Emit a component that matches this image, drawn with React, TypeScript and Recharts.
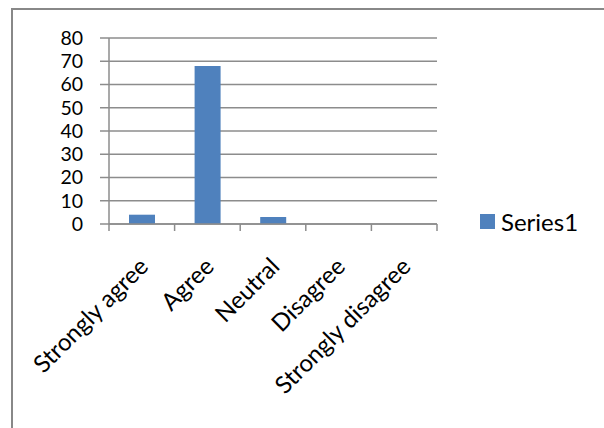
import React from 'react';
import { BarChart, Bar, XAxis, YAxis, CartesianGrid } from 'recharts';

const categories = ['Strongly agree', 'Agree', 'Neutral', 'Disagree', 'Strongly disagree'];
const series1 = [4, 68, 3, 0, 0];
const yTicks = [0, 10, 20, 30, 40, 50, 60, 70, 80];

const data = categories.map((name, i) => ({ name, Series1: series1[i] }));

const FONT = 'Lato, "Open Sans", sans-serif';
const BLUE = '#4F81BD';
const GRID = '#8c8c8c';

const PLOT_LEFT = 109;
const PLOT_RIGHT = 437;
const BAND = (PLOT_RIGHT - PLOT_LEFT) / categories.length;

const CategoryTick = (props: any) => {
  const { x, y, payload, index } = props;
  const top = y - 8; // axis line position
  return (
    <g>
      <line x1={x - BAND / 2} y1={top} x2={x - BAND / 2} y2={top + 7} stroke={GRID} strokeWidth={1.5} />
      {index === categories.length - 1 && (
        <line x1={x + BAND / 2} y1={top} x2={x + BAND / 2} y2={top + 7} stroke={GRID} strokeWidth={1.5} />
      )}
      <g transform={`translate(${x + 8},${top + 44})`}>
        <text transform="rotate(-45)" textAnchor="end" fontFamily={FONT} fontSize={24} fill="#000">
          {payload.value}
        </text>
      </g>
    </g>
  );
};

export default function App() {
  return (
    <div style={{ position: 'absolute', left: 0, top: 0, width: 604, height: 428, background: '#fff', overflow: 'hidden' }}>
      <div style={{ position: 'absolute', left: 11, top: 8, width: 620, height: 450, border: '2px solid #888', boxSizing: 'border-box' }} />
      <div style={{ position: 'absolute', left: 0, top: 0 }}>
        <BarChart
          width={604}
          height={428}
          data={data}
          margin={{ top: 38, right: 604 - PLOT_RIGHT, left: PLOT_LEFT - 60, bottom: 428 - 224 - 8 }}
          barSize={26}
        >
          <CartesianGrid vertical={false} stroke={GRID} strokeWidth={1.5} />
          <XAxis
            dataKey="name"
            interval={0}
            axisLine={{ stroke: GRID, strokeWidth: 1.5 }}
            tickLine={false}
            tick={<CategoryTick />}
            height={8}
          />
          <YAxis
            width={60}
            domain={[0, 80]}
            ticks={yTicks}
            interval={0}
            axisLine={{ stroke: GRID, strokeWidth: 1.5 }}
            tickLine={{ stroke: GRID, strokeWidth: 1.5 }}
            tickSize={9}
            tickMargin={17}
            tick={{ fontFamily: FONT, fontSize: 19.5, fill: '#000' }}
          />
          <Bar dataKey="Series1" fill={BLUE} isAnimationActive={false} />
        </BarChart>
      </div>
      <div style={{ position: 'absolute', left: 480, top: 207, display: 'flex', alignItems: 'center', fontFamily: FONT, fontSize: 24, color: '#000' }}>
        <span style={{ display: 'inline-block', width: 15, height: 15, background: BLUE, marginRight: 6 }} />
        <span>Series1</span>
      </div>
    </div>
  );
}
